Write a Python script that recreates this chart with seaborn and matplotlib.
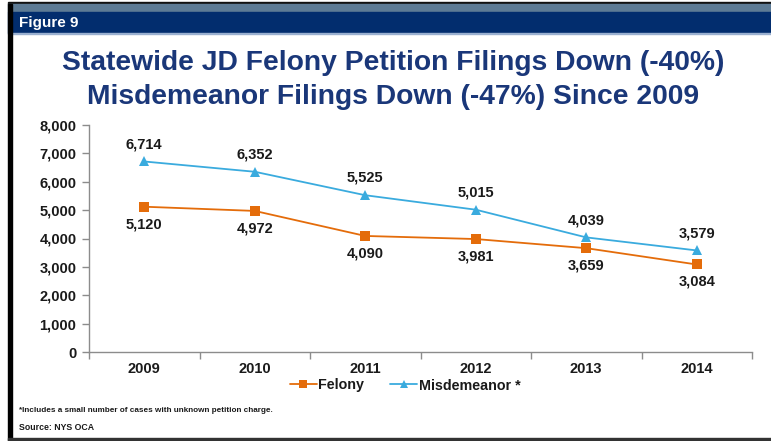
import matplotlib
matplotlib.use("Agg")
import matplotlib.pyplot as plt
import matplotlib.patches as mpatches
import matplotlib.lines as mlines
import seaborn as sns
import pandas as pd
import numpy as np

years = ["2009", "2010", "2011", "2012", "2013", "2014"]
felony = [5120, 4972, 4090, 3981, 3659, 3084]
misdemeanor = [6714, 6352, 5525, 5015, 4039, 3579]
y_ticks = [0, 1000, 2000, 3000, 4000, 5000, 6000, 7000, 8000]

title_lines = ["Statewide JD Felony Petition Filings Down (-40%)",
               "Misdemeanor Filings Down (-47%) Since 2009"]

sns.set_theme(style="white")
plt.rcParams['font.family'] = ['Liberation Sans Narrow', 'Liberation Sans', 'DejaVu Sans']

W, H = 771, 441
fig = plt.figure(figsize=(W / 100, H / 100), dpi=100)

def fx(px):
    return px / W

def fy(py):
    return 1 - py / H

# Frame decorations
fig.patches.append(mpatches.Rectangle((fx(8), fy(4)), 1, 2 / H, transform=fig.transFigure,
                                      color="#111111", zorder=0))
fig.patches.append(mpatches.Rectangle((fx(8), fy(12)), 1, 8 / H, transform=fig.transFigure,
                                      color="#5D7B95", zorder=0))
fig.patches.append(mpatches.Rectangle((fx(8), fy(33)), 1, 21 / H, transform=fig.transFigure,
                                      color="#022D6E", zorder=0))
fig.patches.append(mpatches.Rectangle((fx(8), fy(33.5)), 1, 0.8 / H, transform=fig.transFigure,
                                      color="#9AB0D0", zorder=0))
fig.patches.append(mpatches.Rectangle((fx(8), fy(441)), 3.5 / W, 437 / H, transform=fig.transFigure,
                                      color="#000000", zorder=0))
fig.patches.append(mpatches.Rectangle((fx(8), fy(440)), 1, 1.6 / H, transform=fig.transFigure,
                                      color="#333333", zorder=0))

fig.text(fx(19), fy(23), "Figure 9", color="white", fontsize=11, fontweight="bold",
         va="center", ha="left")

navy = "#1A3779"
fig.text(0.51, fy(63), title_lines[0], color=navy, fontsize=20.3, fontweight="bold",
         ha="center", va="center")
fig.text(0.51, fy(97.5), title_lines[1], color=navy, fontsize=20.3, fontweight="bold",
         ha="center", va="center")

ax = fig.add_axes([fx(89), fy(352), fx(752) - fx(89), fy(125) - fy(352)])

orange = "#E46C0A"
blue = "#3AABDE"

x = np.arange(len(years))
df = pd.DataFrame({
    "x": np.concatenate([x, x]),
    "value": felony + misdemeanor,
    "series": ["Felony"] * len(years) + ["Misdemeanor *"] * len(years),
})

sns.lineplot(data=df, x="x", y="value", hue="series", style="series",
             markers={"Felony": "s", "Misdemeanor *": "^"}, dashes=False,
             palette={"Felony": orange, "Misdemeanor *": blue},
             markersize=7, markeredgewidth=0, linewidth=1.3, ax=ax, legend=False)

ax.set_xlim(-0.5, len(years) - 0.5)
ax.set_ylim(0, 8000)
ax.set_yticks(y_ticks)
ax.set_yticklabels([f"{v:,}" for v in y_ticks])
ax.set_xticks(x)
ax.set_xticklabels(years)
ax.set_xticks(np.arange(-0.5, len(years), 1.0), minor=True)
ax.set_xlabel("")
ax.set_ylabel("")

for s in ["top", "right"]:
    ax.spines[s].set_visible(False)
for s in ["left", "bottom"]:
    ax.spines[s].set_color("#8C8C8C")
    ax.spines[s].set_linewidth(1.0)

ax.tick_params(axis="y", which="major", direction="out", length=5, width=1, color="#8C8C8C",
               left=True, labelsize=10.5, labelcolor="#1a1a1a", pad=4)
ax.tick_params(axis="x", which="major", length=0, labelsize=10.5, labelcolor="#1a1a1a", pad=7)
ax.tick_params(axis="x", which="minor", direction="out", length=5, width=1, color="#8C8C8C",
               bottom=True)
for lab in ax.get_yticklabels() + ax.get_xticklabels():
    lab.set_fontweight("bold")
    lab.set_fontfamily(['Liberation Sans', 'DejaVu Sans'])

for i, v in enumerate(misdemeanor):
    ax.annotate(f"{v:,}", (x[i], v), xytext=(0, 12.5), textcoords="offset points",
                ha="center", va="center", fontsize=10.5, fontweight="bold", color="#1a1a1a",
                family=['Liberation Sans', 'DejaVu Sans'])
for i, v in enumerate(felony):
    ax.annotate(f"{v:,}", (x[i], v), xytext=(0, -12.5), textcoords="offset points",
                ha="center", va="center", fontsize=10.5, fontweight="bold", color="#1a1a1a",
                family=['Liberation Sans', 'DejaVu Sans'])

handles = [
    mlines.Line2D([], [], color=orange, marker="s", markersize=6, markeredgewidth=0, linewidth=1.3),
    mlines.Line2D([], [], color=blue, marker="^", markersize=6, markeredgewidth=0, linewidth=1.3),
]
leg = fig.legend(handles, ["Felony", "Misdemeanor *"], loc="center", ncol=2,
                 bbox_to_anchor=(fx(405), fy(385.5)), frameon=False, handlelength=1.9,
                 handletextpad=0.1, columnspacing=1.8,
                 prop={"size": 10.3, "weight": "bold", "family": ['Liberation Sans', 'DejaVu Sans']})
for t in leg.get_texts():
    t.set_color("#1a1a1a")

fig.text(fx(19), fy(410), "*Includes a small number of cases with unknown petition charge.",
         fontsize=5.9, fontweight="bold", color="#1a1a1a", ha="left", va="center")
fig.text(fx(19), fy(428), "Source: NYS OCA", fontsize=6.3, fontweight="bold",
         color="#1a1a1a", ha="left", va="center")

fig.savefig("out.png", dpi=100, facecolor="white")
